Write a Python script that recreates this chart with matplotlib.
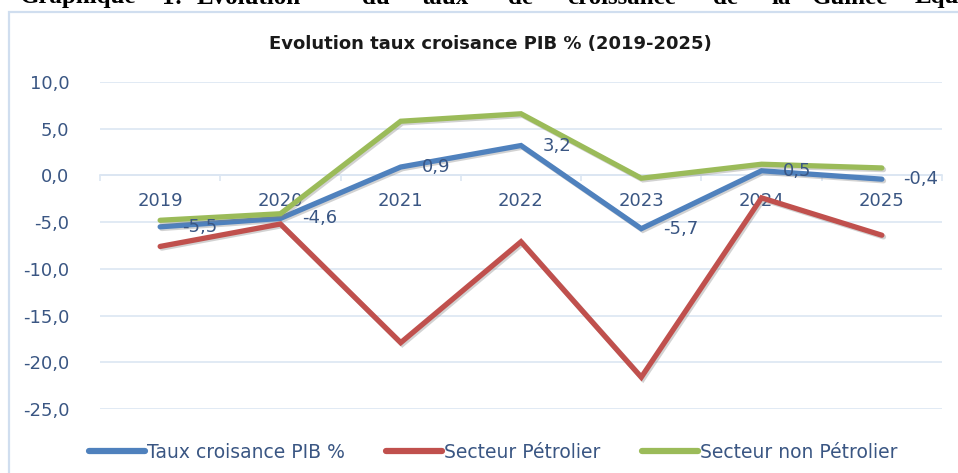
import matplotlib
matplotlib.use("Agg")
import matplotlib.pyplot as plt
import matplotlib.patheffects as pe
from matplotlib.patches import Rectangle

years = ['2019', '2020', '2021', '2022', '2023', '2024', '2025']
taux_pib = [-5.5, -4.6, 0.9, 3.2, -5.7, 0.5, -0.4]
petrolier = [-7.6, -5.2, -17.9, -7.1, -21.6, -2.4, -6.4]
non_petrolier = [-4.8, -4.1, 5.8, 6.6, -0.3, 1.2, 0.8]

series_names = ['Taux croisance PIB %', 'Secteur Pétrolier', 'Secteur non Pétrolier']
colors = ['#4F81BD', '#C0504D', '#9BBB59']
txt_col = '#3A5683'
grid_col = '#DCE6F2'

W, H = 958, 473
fig = plt.figure(figsize=(W / 100, H / 100), dpi=100)
ax = fig.add_axes([100 / W, 1 - 409 / H, 842 / W, 327 / H])

x = list(range(len(years)))
shadow = [pe.SimpleLineShadow(offset=(1.2, -1.2), shadow_color='#808080', alpha=0.35), pe.Normal()]
for vals, name, c in zip([taux_pib, petrolier, non_petrolier], series_names, colors):
    ax.plot(x, vals, color=c, lw=3.8, label=name, solid_joinstyle='miter',
            solid_capstyle='round', path_effects=shadow, zorder=3)

# etiquettes de la serie PIB
for i, v in enumerate(taux_pib):
    ax.annotate(f'{v:.1f}'.replace('.', ','), (i, v), xytext=(15.5, 0),
                textcoords='offset points', ha='left', va='center',
                fontsize=13, color=txt_col, zorder=4)

ax.set_xlim(-0.5, len(years) - 0.5)
ax.set_ylim(-25, 10)
yt = [10, 5, 0, -5, -10, -15, -20, -25]
ax.set_yticks(yt)
ax.set_yticklabels([f'{v:.1f}'.replace('.', ',') for v in yt])
ax.tick_params(axis='y', length=0, pad=22, labelsize=13, labelcolor=txt_col)
ax.grid(axis='y', color=grid_col, lw=1.2, zorder=0)

ax.set_xticks([i - 0.5 for i in range(len(years) + 1)])
ax.set_xticklabels([])
ax.set_xticks(x, minor=True)
ax.set_xticklabels(years, minor=True)
ax.tick_params(axis='x', which='major', length=4.5, color=grid_col, width=1.2, direction='out')
ax.tick_params(axis='x', which='minor', length=0, pad=12, labelsize=13, labelcolor=txt_col)

for s in ['top', 'right', 'left']:
    ax.spines[s].set_visible(False)
ax.spines['bottom'].set_position(('data', 0))
ax.spines['bottom'].set_color(grid_col)
ax.spines['bottom'].set_linewidth(1.2)
ax.spines['bottom'].set_zorder(1)

fig.text(490 / W, 1 - 44 / H, 'Evolution taux croisance PIB % (2019-2025)',
         ha='center', va='center', fontsize=13, fontweight='bold', color='#1A1A1A')

leg = fig.legend(loc='center', bbox_to_anchor=(493 / W, 1 - 452 / H), ncol=3, frameon=False,
                 fontsize=13.5, handlelength=3.0, handletextpad=0.1, columnspacing=2.2)
for t in leg.get_texts():
    t.set_color(txt_col)
for h in leg.legend_handles:
    h.set_path_effects([])
    h.set_linewidth(4.5)

# cadre du graphique
fig.patches.append(Rectangle((9 / W, -0.1), 1.2, 1.1 - 12 / H, transform=fig.transFigure,
                             fill=False, ec='#D0DEEF', lw=1.6))

# titre du document, coupe en haut comme sur l'image d'origine
words = ['Graphique', '1:', 'Evolution', 'du', 'taux', 'de', 'croissance', 'de', 'la', 'Guinée', 'Equatoriale']
wx = [20, 162, 197, 362, 422, 508, 567, 713, 771, 812, 915]
for w, px in zip(words, wx):
    fig.text(px / W, 1 - 3.5 / H, w, ha='left', va='baseline', fontsize=18,
             fontweight='bold', family='Liberation Serif', color='black')

fig.savefig('out.png', dpi=100)
